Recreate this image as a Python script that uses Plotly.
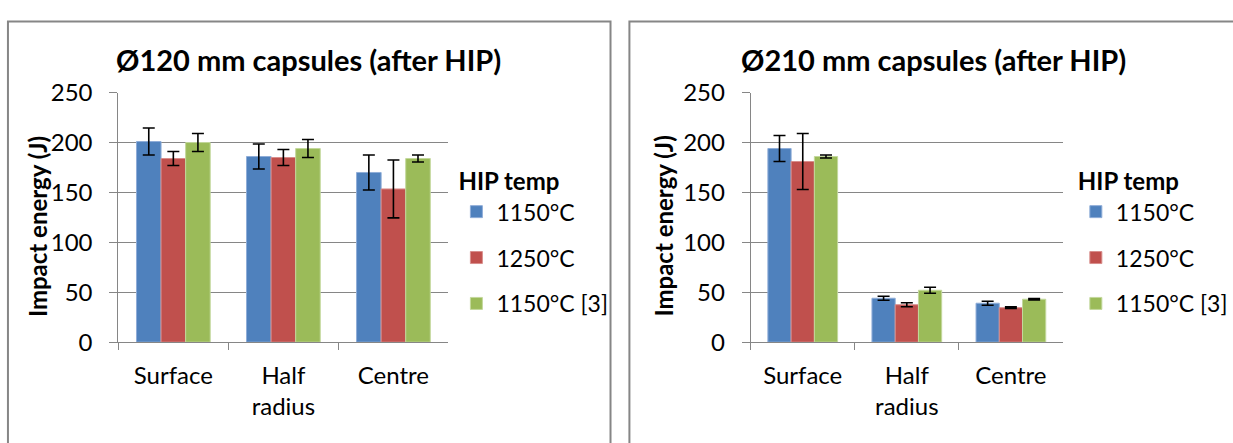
import plotly.graph_objects as go

categories = ["Surface", "Half<br>radius", "Centre"]
series_names = ["1150°C", "1250°C", "1150°C [3]"]
colors = ["#4F81BD", "#C0504D", "#9BBB59"]
edge_colors = ["#8FADD8", "#D88E8C", "#C3D89C"]

# Ø120 mm capsules
v120_1150 = [201, 186, 170]
e120_1150 = [13.5, 12.5, 17.5]
v120_1250 = [184, 185, 153.5]
e120_1250 = [7, 8, 29]
v120_1150r = [200, 194, 184]
e120_1150r = [9, 9, 3.5]

# Ø210 mm capsules
v210_1150 = [194, 44, 39]
e210_1150 = [13, 2, 2]
v210_1250 = [181, 37.5, 34.5]
e210_1250 = [28, 2, 0.8]
v210_1150r = [186, 52, 43]
e210_1150r = [1.5, 3, 0.8]

y_ticks = [0, 50, 100, 150, 200, 250]

W, H = 1233, 443
FONT = "Lato"
GRAY = "#868686"

def px_x(x):
    return x / W

def px_y(y):
    return 1 - y / H

fig = go.Figure()

left_vals = [(v120_1150, e120_1150), (v120_1250, e120_1250), (v120_1150r, e120_1150r)]
right_vals = [(v210_1150, e210_1150), (v210_1250, e210_1250), (v210_1150r, e210_1150r)]

for i, (vals, errs) in enumerate(left_vals):
    fig.add_trace(go.Bar(
        x=categories, y=vals, name=series_names[i], marker_color=colors[i],
        marker_line=dict(color=edge_colors[i], width=1),
        error_y=dict(type="data", array=errs, visible=True, color="black", thickness=1.6, width=6),
        xaxis="x", yaxis="y", legend="legend", legendgroup="a%d" % i,
    ))
for i, (vals, errs) in enumerate(right_vals):
    fig.add_trace(go.Bar(
        x=categories, y=vals, name=series_names[i], marker_color=colors[i],
        marker_line=dict(color=edge_colors[i], width=1),
        error_y=dict(type="data", array=errs, visible=True, color="black", thickness=1.6, width=6),
        xaxis="x2", yaxis="y2", legend="legend2", legendgroup="b%d" % i,
    ))

ydom = [px_y(349), px_y(82)]

def xaxis(domain, anchor):
    return dict(domain=domain, anchor=anchor, showline=True, linecolor=GRAY, linewidth=1,
                ticks="outside", tickson="boundaries", ticklen=7, tickcolor=GRAY, tickwidth=1,
                showgrid=False, zeroline=False, ticklabelstandoff=12,
                tickfont=dict(family=FONT, size=24, color="black"))

def yaxis(anchor):
    return dict(domain=ydom, anchor=anchor, range=[0, 250], tickvals=y_ticks,
                showline=True, linecolor=GRAY, linewidth=1,
                ticks="outside", ticklen=8, tickcolor=GRAY, tickwidth=1,
                showgrid=True, gridcolor=GRAY, gridwidth=1, zeroline=False,
                ticklabelstandoff=12,
                tickfont=dict(family=FONT, size=24, color="black"))

legend_common = dict(
    title=dict(text="<b>HIP temp</b>", font=dict(family=FONT, size=24, color="black")),
    font=dict(family=FONT, size=23, color="black"),
    traceorder="grouped", tracegroupgap=13, bgcolor="rgba(0,0,0,0)",
    xanchor="left", yanchor="top", borderwidth=0,
)

fig.update_layout(
    width=W, height=H, autosize=False,
    margin=dict(l=0, r=0, t=0, b=0),
    paper_bgcolor="white", plot_bgcolor="white",
    barmode="group", bargap=0.33, bargroupgap=0,
    xaxis=xaxis([px_x(119), px_x(451)], "y"),
    yaxis=yaxis("x"),
    xaxis2=xaxis([px_x(755), px_x(1069)], "y2"),
    yaxis2=yaxis("x2"),
    legend=dict(x=px_x(459), y=px_y(153), **legend_common),
    legend2=dict(x=px_x(1082), y=px_y(153), **legend_common),
    showlegend=True,
)

# chart area borders
fig.add_shape(type="rect", xref="paper", yref="paper",
              x0=px_x(8), x1=px_x(614), y0=-0.05, y1=px_y(6),
              line=dict(color=GRAY, width=2), fillcolor="rgba(0,0,0,0)", layer="below")
fig.add_shape(type="rect", xref="paper", yref="paper",
              x0=px_x(633), x1=1.05, y0=-0.05, y1=px_y(6),
              line=dict(color=GRAY, width=2), fillcolor="rgba(0,0,0,0)", layer="below")

# titles
fig.add_annotation(text="<b>Ø120 mm capsules (after HIP)</b>", xref="paper", yref="paper",
                   x=px_x(310), y=px_y(47), xanchor="center", yanchor="middle", showarrow=False,
                   font=dict(family=FONT, size=29, color="black"))
fig.add_annotation(text="<b>Ø210 mm capsules (after HIP)</b>", xref="paper", yref="paper",
                   x=px_x(939), y=px_y(47), xanchor="center", yanchor="middle", showarrow=False,
                   font=dict(family=FONT, size=29, color="black"))

# y-axis titles
fig.add_annotation(text="<b>Impact energy (J)</b>", xref="paper", yref="paper",
                   x=px_x(37), y=px_y(225), xanchor="center", yanchor="middle",
                   showarrow=False, textangle=-90,
                   font=dict(family=FONT, size=24, color="black"))
fig.add_annotation(text="<b>Impact energy (J)</b>", xref="paper", yref="paper",
                   x=px_x(667), y=px_y(225), xanchor="center", yanchor="middle",
                   showarrow=False, textangle=-90,
                   font=dict(family=FONT, size=24, color="black"))

fig.write_html("out.html", config={"displayModeBar": False},
               post_script="document.body.style.margin='0';")
